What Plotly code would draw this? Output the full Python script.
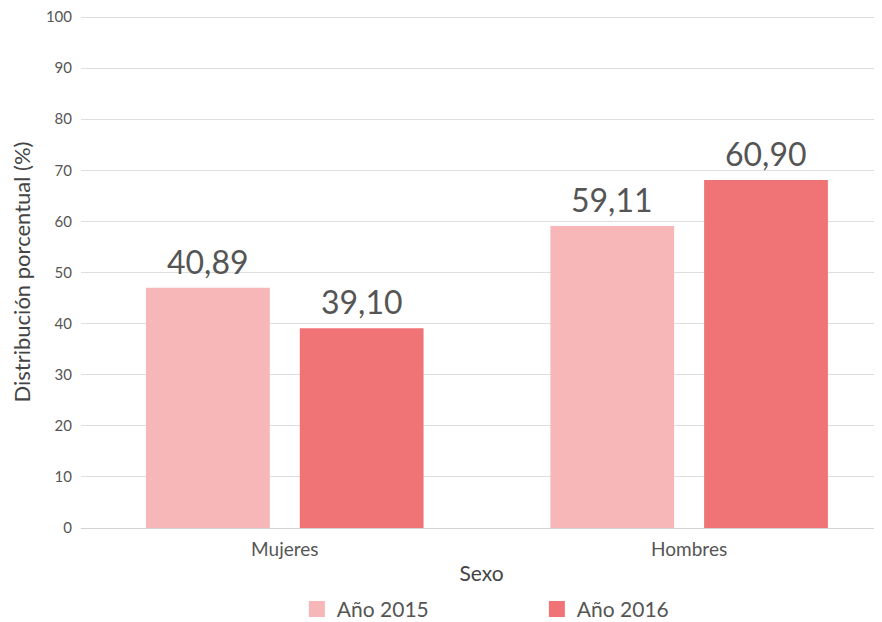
import plotly.graph_objects as go

# categories and series
sexo = ["Mujeres", "Hombres"]
serie_names = ["Año 2015", "Año 2016"]
# bar heights as drawn in the picture
valores_2015 = [47.0, 59.1]
valores_2016 = [39.1, 68.1]
# labels as printed over the bars
etiquetas_2015 = ["40,89", "59,11"]
etiquetas_2016 = ["39,10", "60,90"]
y_ticks = [0, 10, 20, 30, 40, 50, 60, 70, 80, 90, 100]

colores = ["#F7B6B7", "#F07375"]
FONT = "Lato, Noto Sans, sans-serif"
TXT = "#555555"

fig = go.Figure()
series = [(valores_2015, etiquetas_2015), (valores_2016, etiquetas_2016)]
for i, (vals, labels) in enumerate(series):
    fig.add_trace(go.Bar(
        x=sexo, y=vals, name=serie_names[i], showlegend=False,
        marker=dict(color=colores[i], line=dict(width=0)),
    ))
    # legend entry with a bigger square swatch
    fig.add_trace(go.Scatter(
        x=[None], y=[None], mode="markers", name=serie_names[i],
        marker=dict(symbol="square", size=22, color=colores[i]),
    ))
    # value labels sit above each bar
    for cat, v, lab in zip(sexo, vals, labels):
        fig.add_annotation(
            x=cat, y=v, text=lab, showarrow=False,
            xref="x", yref="y", yanchor="bottom",
            xshift=-77 if i == 0 else 77, yshift=5,
            font=dict(family=FONT, size=32, color=TXT),
        )

# page body adds an 8px offset, margins compensate for it
fig.update_layout(
    width=882, height=622,
    margin=dict(l=73, r=8, t=8, b=102, autoexpand=False),
    paper_bgcolor="white", plot_bgcolor="white",
    barmode="group", bargap=0.2395, bargroupgap=0.195,
    font=dict(family=FONT, color=TXT),
    showlegend=True,
    legend=dict(
        orientation="h", x=0.2695, xanchor="left", y=-0.119, yanchor="top",
        font=dict(family=FONT, size=21, color=TXT),
        entrywidth=195, entrywidthmode="pixels", itemsizing="trace",
    ),
)
fig.update_xaxes(
    range=[-0.504, 1.477], showgrid=False, showline=False,
    ticks="outside", ticklen=4, tickcolor="white",
    automargin=False,
    tickfont=dict(size=19, color=TXT),
    title=dict(text="Sexo", font=dict(size=21, color="#444444"), standoff=7),
)
fig.update_yaxes(
    range=[0, 100.2], tickvals=y_ticks, showgrid=True, gridcolor="#DEDEDE",
    zeroline=True, zerolinecolor="#D2D2D2", zerolinewidth=1,
    showline=False, ticks="outside", ticklen=5, tickcolor="white",
    automargin=False, ticklabeloverflow="allow",
    tickfont=dict(size=15, color=TXT),
    title=dict(text="Distribución porcentual (%)", font=dict(size=22, color="#444444"), standoff=16),
)

fig.write_html("out.html")
